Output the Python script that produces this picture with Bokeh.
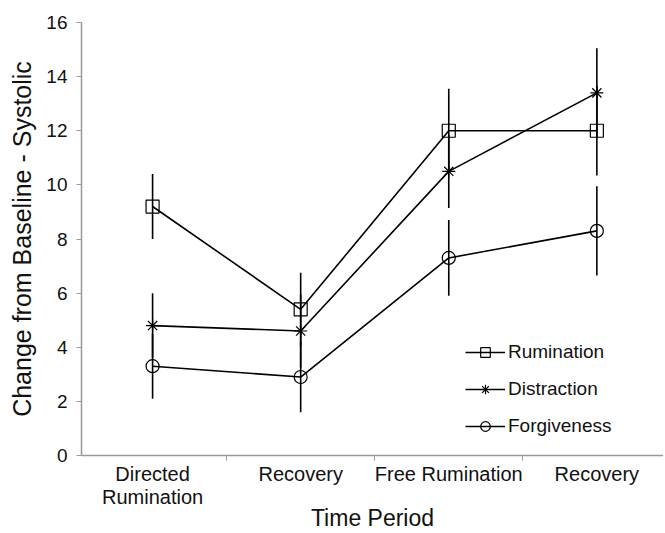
from bokeh.plotting import figure
from bokeh.models import ColumnDataSource, FixedTicker, Range1d, Legend
from bokeh.embed import file_html
from bokeh.resources import INLINE

# ---- data ----
periods = ["Directed\nRumination", "Recovery", "Free Rumination", "Recovery"]
period_pos = [1, 2, 3, 4]
rumination = [9.2, 5.4, 12.0, 12.0]
rumination_err = [1.2, 1.35, 1.55, 1.65]
distraction = [4.8, 4.6, 10.5, 13.4]
distraction_err = [1.2, 1.35, 1.35, 1.65]
forgiveness = [3.3, 2.9, 7.3, 8.3]
forgiveness_err = [1.2, 1.3, 1.4, 1.65]
y_ticks = [0, 2, 4, 6, 8, 10, 12, 14, 16]

FONT = "Liberation Sans"

p = figure(width=663, height=533, output_backend="svg", toolbar_location=None,
           x_range=Range1d(0.52, 4.45), y_range=Range1d(0, 16),
           min_border_left=81, min_border_top=22, min_border_right=0,
           min_border_bottom=0)
p.outline_line_color = None
p.xgrid.grid_line_color = None
p.ygrid.grid_line_color = None
p.background_fill_color = "white"

series = [
    ("Rumination", rumination, rumination_err, "square", 13),
    ("Distraction", distraction, distraction_err, "asterisk", 13),
    ("Forgiveness", forgiveness, forgiveness_err, "circle", 13),
]

items = []
for name, vals, errs, marker, size in series:
    src = ColumnDataSource(dict(
        x=period_pos, y=vals,
        lo=[v - e for v, e in zip(vals, errs)],
        hi=[v + e for v, e in zip(vals, errs)],
    ))
    p.segment(x0="x", y0="lo", x1="x", y1="hi", source=src,
              line_color="black", line_width=1.6)
    r1 = p.line("x", "y", source=src, line_color="black", line_width=1.6)
    r2 = p.scatter("x", "y", source=src, marker=marker, size=size,
                   line_color="black", line_width=1.2, fill_color=None)
    items.append((name, [r1, r2]))

legend = Legend(items=items, location=(384, 17), orientation="vertical")
legend.border_line_color = None
legend.background_fill_alpha = 0
legend.label_text_font = FONT
legend.label_text_font_size = "19px"
legend.label_text_color = "#111111"
legend.glyph_width = 40
legend.glyph_height = 24
legend.label_height = 24
legend.label_standoff = 3
legend.spacing = 13
legend.padding = 0
legend.margin = 0
p.add_layout(legend, "center")

# x axis
xa = p.xaxis[0]
xa.ticker = FixedTicker(ticks=period_pos, minor_ticks=[1.5, 2.5, 3.5])
xa.major_label_overrides = {pos: lab for pos, lab in zip(period_pos, periods)}
xa.major_tick_line_color = None
xa.major_tick_out = 0
xa.major_tick_in = 0
xa.minor_tick_line_color = "#999999"
xa.minor_tick_out = 5
xa.minor_tick_in = 0
xa.axis_line_color = "#999999"
xa.axis_line_width = 1.5
xa.major_label_text_font = FONT
xa.major_label_text_font_size = "20px"
xa.major_label_text_line_height = 1.05
xa.major_label_text_color = "#111111"
xa.major_label_standoff = 2
xa.axis_label = "Time Period"
xa.axis_label_text_font = FONT
xa.axis_label_text_font_size = "23px"
xa.axis_label_text_line_height = 1.0
xa.axis_label_text_font_style = "normal"
xa.axis_label_text_color = "#111111"
xa.axis_label_standoff = -6

# y axis
ya = p.yaxis[0]
ya.ticker = FixedTicker(ticks=y_ticks, minor_ticks=[])
ya.major_tick_line_color = "#999999"
ya.major_tick_out = 5
ya.major_tick_in = 0
ya.axis_line_color = "#999999"
ya.axis_line_width = 1.5
ya.major_label_text_font = FONT
ya.major_label_text_font_size = "19px"
ya.major_label_text_color = "#111111"
ya.major_label_standoff = 9
ya.axis_label = "Change from Baseline - Systolic"
ya.axis_label_text_font = FONT
ya.axis_label_text_font_size = "25px"
ya.axis_label_text_font_style = "normal"
ya.axis_label_text_color = "#111111"
ya.axis_label_standoff = 7

open("out.html", "w").write(file_html(p, INLINE))
